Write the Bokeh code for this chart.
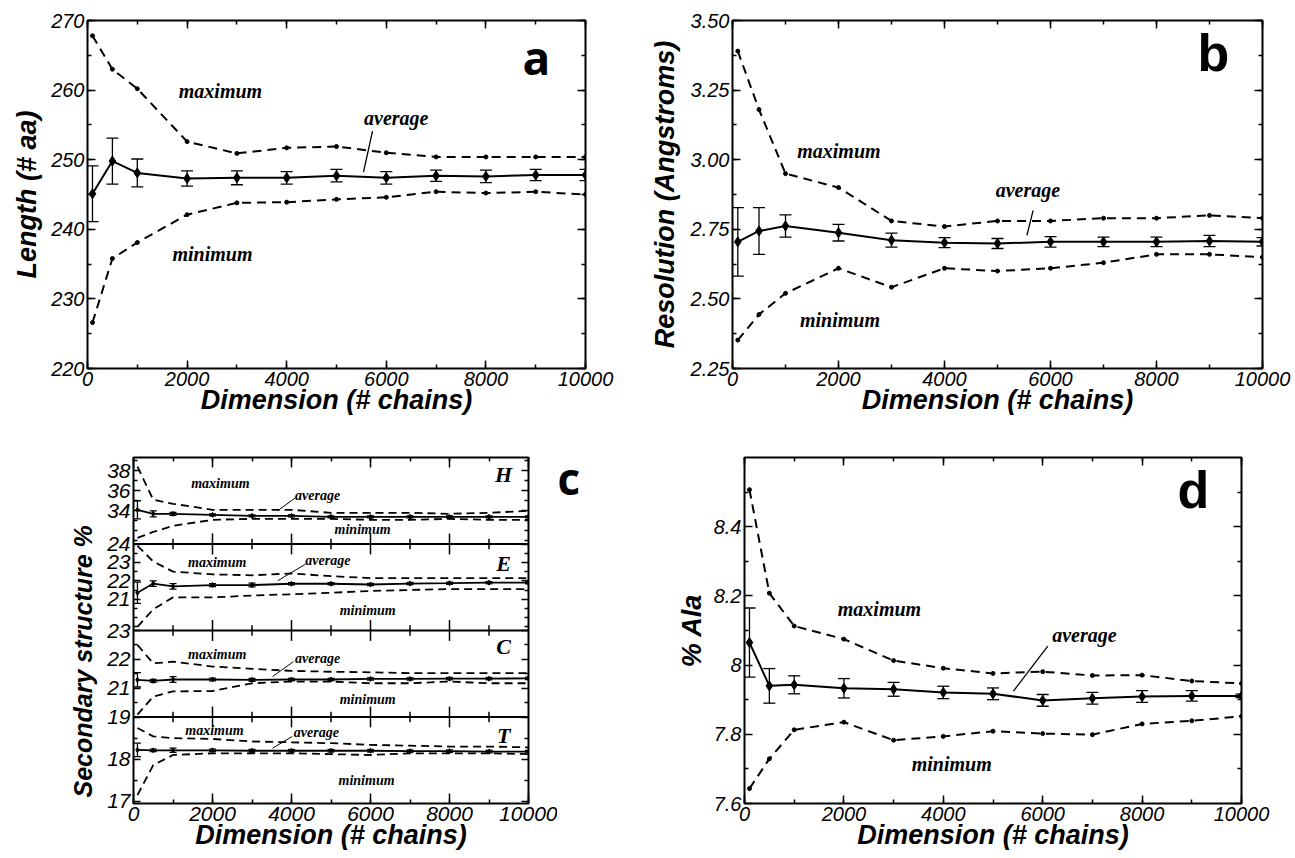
from math import pi
from bokeh.plotting import figure
from bokeh.models import (ColumnDataSource, Whisker, TeeHead, Label, LinearAxis, FixedTicker,
                          SingleIntervalTicker, Range1d, Arrow, Span, NumeralTickFormatter,
                          CustomLabelingPolicy)
from bokeh.layouts import row, column
from bokeh.embed import file_html
from bokeh.resources import INLINE

# ---------------- data ----------------
dims = [100, 500, 1000, 2000, 3000, 4000, 5000, 6000, 7000, 8000, 9000, 10000]

# (a) length (# aa)
length_max = [267.8, 263.0, 260.2, 252.6, 250.9, 251.7, 251.9, 251.0, 250.4, 250.4, 250.4, 250.4]
length_avg = [245.1, 249.8, 248.1, 247.3, 247.4, 247.4, 247.7, 247.4, 247.7, 247.6, 247.8, 247.8]
length_err = [4.0, 3.3, 2.0, 1.1, 1.0, 0.9, 0.9, 0.9, 0.8, 0.9, 0.8, 0.8]
length_min = [226.6, 235.8, 238.1, 242.1, 243.8, 243.9, 244.3, 244.6, 245.4, 245.2, 245.4, 245.0]

# (b) resolution (Angstroms)
res_max = [3.39, 3.18, 2.95, 2.90, 2.78, 2.76, 2.78, 2.78, 2.79, 2.79, 2.80, 2.79]
res_avg = [2.705, 2.744, 2.762, 2.738, 2.711, 2.702, 2.699, 2.705, 2.705, 2.705, 2.708, 2.705]
res_err = [0.123, 0.084, 0.04, 0.03, 0.025, 0.018, 0.018, 0.019, 0.017, 0.017, 0.02, 0.015]
res_min = [2.352, 2.444, 2.52, 2.61, 2.542, 2.61, 2.60, 2.61, 2.63, 2.66, 2.66, 2.65]

# (c) secondary structure %
H_max = [38.4, 35.1, 34.7, 34.1, 34.1, 34.1, 33.8, 33.8, 33.8, 33.7, 33.8, 34.0]
H_avg = [34.1, 33.7, 33.7, 33.6, 33.5, 33.5, 33.4, 33.4, 33.4, 33.4, 33.4, 33.4]
H_err = [0.9, 0.3, 0.15, 0.1, 0.1, 0.1, 0.1, 0.1, 0.1, 0.1, 0.1, 0.1]
H_min = [31.3, 31.9, 32.5, 33.1, 33.2, 33.2, 33.2, 33.1, 33.1, 33.2, 33.1, 33.1]

E_max = [23.9, 23.05, 22.5, 22.35, 22.3, 22.4, 22.25, 22.15, 22.15, 22.15, 22.15, 22.15]
E_avg = [21.35, 21.85, 21.7, 21.77, 21.77, 21.84, 21.84, 21.8, 21.85, 21.87, 21.9, 21.9]
E_err = [0.58, 0.15, 0.15, 0.08, 0.1, 0.06, 0.06, 0.06, 0.06, 0.06, 0.06, 0.06]
E_min = [19.5, 20.45, 21.1, 21.1, 21.2, 21.27, 21.35, 21.45, 21.5, 21.55, 21.55, 21.55]

C_max = [22.5, 21.86, 21.92, 21.75, 21.67, 21.6, 21.57, 21.55, 21.52, 21.52, 21.52, 21.52]
C_avg = [21.29, 21.25, 21.3, 21.3, 21.29, 21.3, 21.3, 21.32, 21.32, 21.33, 21.33, 21.34]
C_err = [0.25, 0.05, 0.1, 0.05, 0.05, 0.04, 0.04, 0.04, 0.04, 0.04, 0.04, 0.04]
C_min = [20.08, 20.71, 20.89, 20.9, 21.17, 21.23, 21.23, 21.17, 21.17, 21.23, 21.17, 21.17]

T_max = [18.74, 18.54, 18.5, 18.48, 18.42, 18.4, 18.38, 18.34, 18.32, 18.3, 18.3, 18.28]
T_avg = [18.22, 18.21, 18.21, 18.21, 18.2, 18.2, 18.2, 18.2, 18.19, 18.19, 18.18, 18.18]
T_err = [0.16, 0.03, 0.05, 0.03, 0.03, 0.03, 0.03, 0.03, 0.03, 0.03, 0.03, 0.03]
T_min = [17.15, 17.86, 18.1, 18.14, 18.14, 18.14, 18.12, 18.1, 18.14, 18.14, 18.14, 18.12]

# sub-panel axis settings for (c): (name, lo, hi, labelled ticks, minor ticks)
band_H = ("H", 30.7, 39.3, [34, 36, 38], [31, 32, 33, 35, 37, 39])
band_E = ("E", 19.3, 24.0, [24, 23, 22, 21], [19.5, 20, 20.5, 21.5, 22.5, 23.5])
band_C = ("C", 20.0, 23.0, [23, 22, 21], [20.5, 21.5, 22.5])
band_T = ("T", 16.95, 19.0, [19, 18, 17], [17.5, 18.5])

# (d) % Ala
ala_max = [8.507, 8.208, 8.113, 8.075, 8.013, 7.991, 7.976, 7.981, 7.970, 7.971, 7.954, 7.947]
ala_avg = [8.065, 7.940, 7.943, 7.933, 7.930, 7.921, 7.917, 7.898, 7.904, 7.909, 7.911, 7.911]
ala_err = [0.10, 0.05, 0.026, 0.028, 0.02, 0.018, 0.017, 0.017, 0.017, 0.017, 0.015, 0.005]
ala_min = [7.643, 7.729, 7.813, 7.835, 7.783, 7.794, 7.809, 7.802, 7.799, 7.830, 7.839, 7.852]

x_major = [2000, 4000, 6000, 8000]
x_minor = [1000, 3000, 5000, 7000, 9000]

SANS = "Liberation Sans"
SERIF = "Liberation Serif"


def hide_labels():
    return CustomLabelingPolicy(code="for (const i of indices) { indices.unset(i) }\nreturn indices")


def style_axis(ax, ticker, labels=True, size="20px", tin=8, tmin=4):
    ax.ticker = ticker
    ax.axis_line_color = None
    ax.major_tick_in = tin
    ax.major_tick_out = 0
    ax.minor_tick_in = tmin
    ax.minor_tick_out = 0
    ax.major_tick_line_width = 1.5
    ax.minor_tick_line_width = 1.5
    ax.major_tick_line_color = "black"
    ax.minor_tick_line_color = "black"
    if labels:
        ax.major_label_text_font = SANS
        ax.major_label_text_font_style = "italic"
        ax.major_label_text_font_size = size
        ax.major_label_text_color = "black"
        ax.major_label_standoff = 3
    else:
        ax.major_label_text_font_size = "1px"
        ax.major_label_standoff = 0
        ax.major_label_policy = hide_labels()


def axis_title(ax, text, standoff=4, size="27px"):
    ax.axis_label = text
    ax.axis_label_text_font = SANS
    ax.axis_label_text_font_style = "bold italic"
    ax.axis_label_text_font_size = size
    ax.axis_label_text_color = "black"
    ax.axis_label_standoff = standoff


def base_fig(width, height, ml, mr, mt, mb, y_range, yticker, tick_size="20px", tin=8, tmin=4):
    p = figure(width=width, height=height, x_range=Range1d(0, 10000), y_range=y_range,
               output_backend="svg", toolbar_location=None,
               min_border_left=ml, min_border_right=mr, min_border_top=mt, min_border_bottom=mb)
    p.grid.visible = False
    p.outline_line_color = "black"
    p.outline_line_width = 2
    p.background_fill_color = "white"
    p.border_fill_color = "white"
    xt = SingleIntervalTicker(interval=2000, num_minor_ticks=2)
    style_axis(p.below[0], xt, size=tick_size, tin=tin, tmin=tmin)
    style_axis(p.left[0], yticker, size=tick_size, tin=tin, tmin=tmin)
    top = LinearAxis()
    style_axis(top, xt, labels=False, tin=tin, tmin=tmin)
    p.add_layout(top, "above")
    right = LinearAxis()
    style_axis(right, yticker, labels=False, tin=tin, tmin=tmin)
    p.add_layout(right, "right")
    return p, top


def blank_fig(width, height):
    p = figure(width=width, height=height, x_range=Range1d(0, width), y_range=Range1d(0, height),
               x_axis_type=None, y_axis_type=None, output_backend="svg", toolbar_location=None,
               min_border=0)
    p.outline_line_color = None
    p.background_fill_color = "white"
    p.border_fill_color = "white"
    return p


def series(p, mx, av, er, mn, yname="default", lw=2, dash="9 6", dsize=10, csize=4, tee=12, dots=True):
    kw = {"y_range_name": yname}
    p.line(dims, mx, line_dash=dash, line_width=lw, color="black", **kw)
    p.line(dims, mn, line_dash=dash, line_width=lw, color="black", **kw)
    if dots:
        p.scatter(dims, mx, size=csize, color="black", **kw)
        p.scatter(dims, mn, size=csize, color="black", **kw)
    p.line(dims, av, line_width=lw, color="black", **kw)
    p.scatter(dims, av, marker="diamond", size=dsize, color="black", **kw)
    src = ColumnDataSource(dict(x=dims, up=[a + e for a, e in zip(av, er)],
                                lo=[a - e for a, e in zip(av, er)]))
    p.add_layout(Whisker(source=src, base="x", upper="up", lower="lo", line_width=1.3,
                         line_color="black",
                         upper_head=TeeHead(size=tee, line_width=1.3, line_color="black"),
                         lower_head=TeeHead(size=tee, line_width=1.3, line_color="black"),
                         **kw))


def text(p, x, y, t, size="20px", font=SERIF, style="bold italic", yname="default",
         align="center", baseline="middle", angle=0):
    p.add_layout(Label(x=x, y=y, text=t, text_font=font, text_font_style=style,
                       text_font_size=size, text_align=align, text_baseline=baseline,
                       angle=angle, y_range_name=yname, text_color="black"))


def leader(p, x0, y0, x1, y1, yname="default", lw=1.3):
    p.add_layout(Arrow(end=None, x_start=x0, y_start=y0, x_end=x1, y_end=y1,
                       line_width=lw, line_color="black", y_range_name=yname))


TOP_H = 418
BOT_H = 438

# ---------------- panel a ----------------
pa, _ = base_fig(630, TOP_H, 87, 45, 20, 50, Range1d(220, 270),
                 SingleIntervalTicker(interval=10, num_minor_ticks=2))
axis_title(pa.below[0], "Dimension (# chains)", -4)
axis_title(pa.left[0], "Length (# aa)", 6)
series(pa, length_max, length_avg, length_err, length_min)
text(pa, 2670, 259.9, "maximum")
text(pa, 6200, 256.0, "average")
text(pa, 2510, 236.5, "minimum")
leader(pa, 5723, 254.1, 5542, 248.2)
text(pa, 9016, 264.7, "a", size="46px", font="Open Sans", style="bold")

# ---------------- panel b ----------------
pb, _ = base_fig(662, TOP_H, 102, 30, 20, 50, Range1d(2.25, 3.5),
                 SingleIntervalTicker(interval=0.25, num_minor_ticks=2))
pb.left[0].formatter = NumeralTickFormatter(format="0.00")
axis_title(pb.below[0], "Dimension (# chains)", -4)
axis_title(pb.left[0], "Resolution (Angstroms)", 8)
series(pb, res_max, res_avg, res_err, res_min)
text(pb, 2008, 3.033, "maximum")
text(pb, 5574, 2.890, "average")
text(pb, 2028, 2.423, "minimum")
leader(pb, 5672, 2.818, 5555, 2.728)
text(pb, 9075, 3.385, "b", size="52px", font=SANS, style="bold")

# ---------------- panel c (four stacked sub-panels) ----------------
bands = [band_T, band_C, band_E, band_H]   # bottom to top


def band_pos(k, lo, hi, v):
    return k + (v - lo) / (hi - lo)


major_pos, minor_pos, overrides = [], [], {}
for k, (name, lo, hi, ticks, minors) in enumerate(bands):
    for v in ticks:
        pos = round(band_pos(k, lo, hi, v), 6)
        major_pos.append(pos)
        overrides[pos] = str(v)
    for v in minors:
        minor_pos.append(round(band_pos(k, lo, hi, v), 6))

cticker = FixedTicker(ticks=major_pos, minor_ticks=minor_pos)
pc, pc_top = base_fig(457, BOT_H, 33, 29, 39, 50, Range1d(0, 4), cticker,
                      tick_size="21px", tin=7, tmin=4)
pc.left[0].major_label_overrides = overrides
axis_title(pc.below[0], "Dimension (# chains)", -4)
pc.below[0].major_tick_in = 10
pc_top.major_tick_in = 10

for k, (name, lo, hi, ticks, minors) in enumerate(bands):
    span = hi - lo
    pc.extra_y_ranges[name] = Range1d(lo - k * span, hi + (3 - k) * span)

for b in [1, 2, 3]:
    pc.add_layout(Span(location=b, dimension="width", line_width=2, line_color="black"))

bx, by0, by1 = [], [], []
for b in [1, 2, 3]:
    for xv in x_major:
        bx.append(xv); by0.append(b - 0.12); by1.append(b + 0.12)
    for xv in x_minor:
        bx.append(xv); by0.append(b - 0.06); by1.append(b + 0.06)
pc.segment(x0=bx, y0=by0, x1=bx, y1=by1, line_width=1.5, color="black")

sub = {"H": (H_max, H_avg, H_err, H_min), "E": (E_max, E_avg, E_err, E_min),
       "C": (C_max, C_avg, C_err, C_min), "T": (T_max, T_avg, T_err, T_min)}
for name, (mx, av, er, mn) in sub.items():
    series(pc, mx, av, er, mn, yname=name, lw=1.8, dash="8 5", dsize=5, tee=7, dots=False)

cl = {  # name: (max label, avg label, min label, leader, letter)
    "H": ((2200, 36.7), (4660, 35.5), (5800, 32.1), (4100, 35.3, 3650, 34.0), 37.6),
    "E": ((2120, 23.0), (4920, 23.1), (5930, 20.4), (4350, 22.9, 3650, 22.0), 22.93),
    "C": ((2120, 22.17), (4660, 22.03), (5930, 20.62), (4050, 21.92, 3520, 21.4), 22.45),
    "T": ((2050, 18.67), (4630, 18.64), (5900, 17.5), (4020, 18.54, 3520, 18.26), 18.57),
}
for name, (mxl, avl, mnl, ld, ly) in cl.items():
    text(pc, mxl[0], mxl[1], "maximum", size="14px", yname=name)
    text(pc, avl[0], avl[1], "average", size="14px", yname=name)
    text(pc, mnl[0], mnl[1], "minimum", size="14px", yname=name)
    leader(pc, ld[0], ld[1], ld[2], ld[3], yname=name, lw=1)
    text(pc, 9370, ly, name, size="22px", yname=name)

# y title spanning the sub-panels, and the panel letter, in narrow side figures
pc_title = blank_fig(100, BOT_H)
text(pc_title, 82, 180, "Secondary structure %", size="25px", font=SANS, style="bold italic",
     angle=pi / 2)
pc_letter = blank_fig(33, BOT_H)
text(pc_letter, 0, 412, "c", size="44px", font="Open Sans", style="bold", align="left")

# ---------------- panel d ----------------
dticker = FixedTicker(ticks=[7.6, 7.8, 8.0, 8.2, 8.4], minor_ticks=[7.7, 7.9, 8.1, 8.3, 8.5])
pd_, _ = base_fig(681, BOT_H, 154, 30, 35, 53, Range1d(7.6, 8.6), dticker)
pd_.left[0].major_label_overrides = {8.0: "8"}
axis_title(pd_.below[0], "Dimension (# chains)", -4)
axis_title(pd_.left[0], "% Ala", 4)
series(pd_, ala_max, ala_avg, ala_err, ala_min)
text(pd_, 2716, 8.163, "maximum")
text(pd_, 6840, 8.086, "average")
text(pd_, 4170, 7.713, "minimum")
leader(pd_, 6102, 8.055, 5412, 7.925)
text(pd_, 9034, 8.506, "d", size="52px", font=SANS, style="bold")

layout = column(row(pa, pb), row(pc_title, pc, pc_letter, pd_))
open("out.html", "w").write(file_html(layout, INLINE))
